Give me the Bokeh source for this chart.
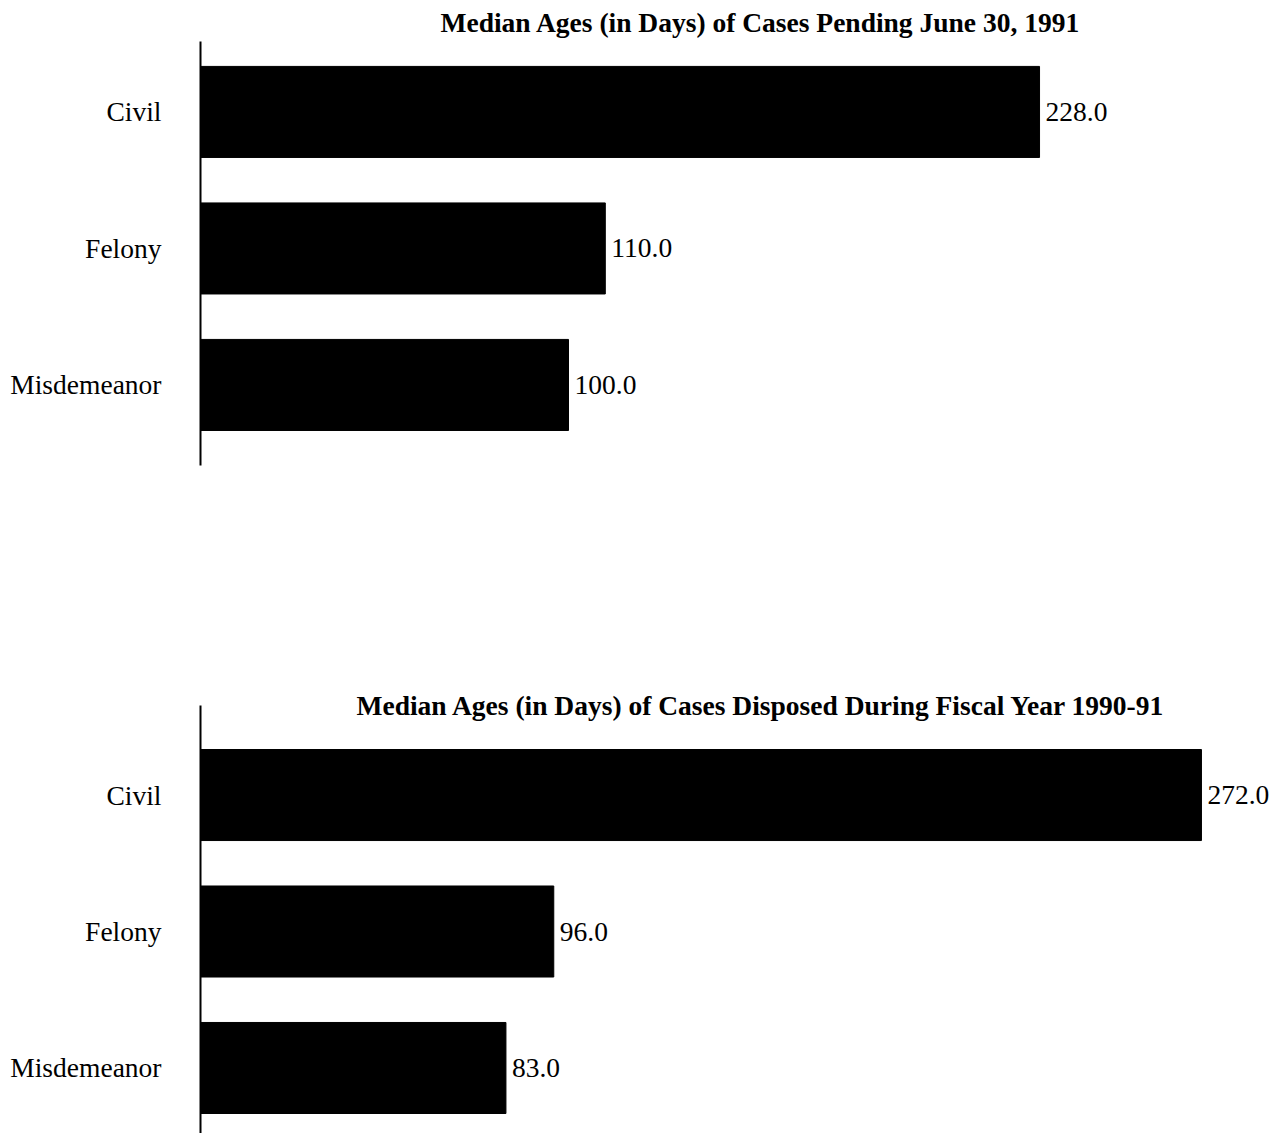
from bokeh.plotting import figure
from bokeh.models import Range1d, FixedTicker, Title
from bokeh.layouts import column
from bokeh.embed import file_html
from bokeh.resources import INLINE
from bokeh.core.properties import value

categories = ["Civil", "Felony", "Misdemeanor"]
pending_days = [228.0, 110.0, 100.0]
disposed_days = [272.0, 96.0, 83.0]
title_pending = "Median Ages (in Days) of Cases Pending June 30, 1991"
title_disposed = "Median Ages (in Days) of Cases Disposed During Fiscal Year 1990-91"

FONT = "Liberation Serif"
PX_PER_DAY = 3.68
WIDTH = 1285
LEFT = 200
X_END = (WIDTH - LEFT) / PX_PER_DAY


def make_chart(vals, title, height, border_top, border_bottom, y_lo, y_hi,
               title_offset, title_standoff):
    ypos = list(range(len(categories)))[::-1]
    p = figure(width=WIDTH, height=height, output_backend="svg",
               toolbar_location=None, x_axis_location=None,
               x_range=Range1d(0, X_END), y_range=Range1d(y_lo, y_hi),
               min_border_left=LEFT, min_border_right=0,
               min_border_top=border_top, min_border_bottom=border_bottom)
    p.title = None
    t = Title(text=title, text_font=FONT, text_font_size="27.5px",
              text_font_style="bold", text_color="black", align="left",
              offset=title_offset, standoff=title_standoff)
    p.add_layout(t, "above")
    p.outline_line_color = None
    p.xgrid.visible = False
    p.ygrid.visible = False
    p.hbar(y=ypos, right=vals, left=0, height=0.667, color="black")
    labels = ["%.1f" % v for v in vals]
    p.text(x=vals, y=ypos, text=labels, x_offset=6, text_baseline="middle",
           text_align="left", text_font=value(FONT), text_font_size="27.5px",
           text_color="black")
    ax = p.yaxis[0]
    ax.ticker = FixedTicker(ticks=ypos)
    ax.major_label_overrides = {y: c for y, c in zip(ypos, categories)}
    ax.major_tick_in = 0
    ax.major_tick_out = 0
    ax.minor_tick_in = 0
    ax.minor_tick_out = 0
    ax.major_label_standoff = 39
    ax.major_label_text_font = FONT
    ax.major_label_text_font_size = "27.5px"
    ax.major_label_text_color = "black"
    ax.axis_line_width = 2
    ax.axis_line_color = "black"
    return p


p1 = make_chart(pending_days, title_pending, 568, 41, 103, -0.59, 2.516, 240, 8)
p2 = make_chart(disposed_days, title_disposed, 565, 137, 0, -0.48, 2.656, 156, -30)

layout = column(p1, p2, spacing=0)
open("out.html", "w").write(file_html(layout, INLINE))
